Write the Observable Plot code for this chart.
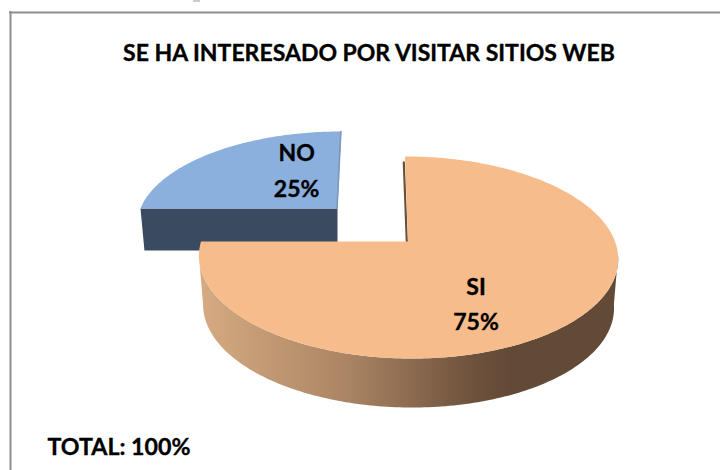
<!DOCTYPE html>
<html>
<head>
<meta charset="utf-8">
<script src="https://cdn.jsdelivr.net/npm/d3@7"></script>
<script src="https://cdn.jsdelivr.net/npm/@observablehq/plot@0.6"></script>
<style>html,body{margin:0;padding:0;background:#fff}svg{display:block}</style>
</head>
<body>
<div id="chart"></div>
<script>
const categories = ["SI", "NO"];
const shares = [75, 25];
const topColors = ["#f7bc8b", "#8bb0de"];
const titleText = "SE HA INTERESADO POR VISITAR SITIOS WEB";
const totalText = "TOTAL: 100%";

// Perspective pie geometry (frame of the 720x470 picture)
const FONT = "Lato, Carlito, 'Open Sans', sans-serif";
const C = -0.158;
const geometry = {
  SI: {ax: 407.5, ay: 241, R: 207, D: 98.5, lean: 0.035, depth: 49, lx: 0.40, ly: 0.76},
  NO: {ax: 337, ay: 208, R: 197, D: 89.2, lean: -0.05, depth: 42, lx: 0.343, ly: 0.72}
};
function rim(g, deg, drop = 0, rx = 1, ry = 1) {
  const a = deg * Math.PI / 180, t = -Math.cos(a), den = 1 + C * t;
  const off = ry * g.D * t / den;
  const k = drop ? 0.98 : 1;
  return {x: g.ax + k * rx * g.R * Math.sin(a) / den + g.lean * off, y: g.ay + off + drop};
}
function arc(g, from, to, drop = 0) {
  const n = Math.max(2, Math.ceil(Math.abs(to - from)));
  return d3.range(n + 1).map(i => rim(g, from + (to - from) * i / n, drop));
}

// Slices from shares, clockwise from the top
let start = 0;
const slices = categories.map((name, i) => {
  const sweep = shares[i] / d3.sum(shares) * 360;
  const s = {name, share: shares[i], from: start, to: start + sweep, color: topColors[i], g: geometry[name]};
  start += sweep;
  return s;
});
const si = slices[0], no = slices[1];

const siTop = [{x: si.g.ax, y: si.g.ay}, ...arc(si.g, si.from, si.to)];
const siWall = [...arc(si.g, 98, 262), ...arc(si.g, 262, 98, si.g.depth)];
const siEdge = [{x: si.g.ax - 1.2, y: si.g.ay}, {x: rim(si.g, si.from).x - 1.2, y: rim(si.g, si.from).y + 6}];
const noTop = [{x: no.g.ax, y: no.g.ay}, ...arc(no.g, no.from, no.to)];
const noWall = [rim(no.g, no.from), {x: no.g.ax, y: no.g.ay}, {x: no.g.ax, y: no.g.ay + no.g.depth}, rim(no.g, no.from, no.g.depth)];
const noEdge = [{x: no.g.ax - 0.5, y: no.g.ay}, {x: rim(no.g, no.to).x - 0.5, y: rim(no.g, no.to).y}];

const labels = slices.map(s => {
  const p = rim(s.g, (s.from + s.to) / 2, 0, s.g.lx, s.g.ly);
  return {text: `${s.name}\n${s.share}%`, x: p.x, y: p.y};
});

const gradient = () => {
  const defs = d3.create("svg:defs");
  const lg = defs.append("linearGradient").attr("id", "siWallFill");
  [[0, "#d6ab82"], [0.35, "#ab8564"], [0.66, "#6d513c"], [0.74, "#634a37"], [1, "#634a37"]]
    .forEach(([o, c]) => lg.append("stop").attr("offset", o).attr("stop-color", c));
  return defs.node();
};

const frameColor = "#8e8e8e";
const heavy = {stroke: "#000", strokeWidth: 0.35, fill: "#000"};
const fig = Plot.plot({
  width: 720, height: 470,
  margin: 0,
  style: {background: "#fff"},
  x: {domain: [0, 720], range: [0, 720], axis: null},
  y: {domain: [0, 470], range: [0, 470], axis: null},
  marks: [
    gradient,
    Plot.ruleX([10], {y1: 11, y2: 470, stroke: frameColor, strokeWidth: 2}),
    Plot.ruleY([12], {x1: 9, x2: 720, stroke: frameColor, strokeWidth: 2}),
    Plot.ruleY([0.5], {x1: 193, x2: 200, stroke: "#999", strokeWidth: 1}),
    Plot.text([titleText], {x: 368.5, y: 53, text: d => d, fontFamily: FONT, fontWeight: 700, fontSize: 23, ...heavy}),
    Plot.text([totalText], {x: 47, y: 447, text: d => d, textAnchor: "start", fontFamily: FONT, fontWeight: 700, fontSize: 23.2, ...heavy}),
    Plot.line(noWall, {x: "x", y: "y", fill: "#3a4a60", stroke: "none"}),
    Plot.line(noTop, {x: "x", y: "y", fill: no.color, stroke: "none"}),
    Plot.line(noEdge, {x: "x", y: "y", stroke: "#7c97b8", strokeWidth: 1.6}),
    Plot.line(siWall, {x: "x", y: "y", fill: "url(#siWallFill)", stroke: "none"}),
    Plot.line(siEdge, {x: "x", y: "y", stroke: "#6b5039", strokeWidth: 2.2}),
    Plot.line(siTop, {x: "x", y: "y", fill: si.color, stroke: "none"}),
    Plot.text(labels, {x: "x", y: "y", text: "text", fontFamily: FONT, fontWeight: 700, fontSize: 23, lineHeight: 1.55, ...heavy})
  ]
});
document.getElementById("chart").append(fig);
</script>
</body>
</html>
